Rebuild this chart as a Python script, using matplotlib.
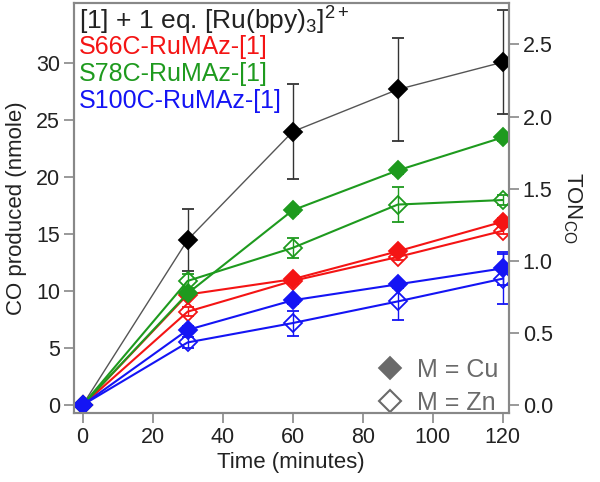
"""
CO production vs time for RuMAz conjugates, Cu (filled) vs Zn (open),
with TON on a twin right axis.
"""
import matplotlib
matplotlib.use("Agg")
import matplotlib.pyplot as plt
from matplotlib.lines import Line2D

plt.rcParams["font.family"] = ["Liberation Sans", "DejaVu Sans"]
plt.rcParams["mathtext.fontset"] = "custom"
plt.rcParams["mathtext.rm"] = "Liberation Sans"
plt.rcParams["mathtext.it"] = "Liberation Sans:italic"
plt.rcParams["mathtext.bf"] = "Liberation Sans:bold"
plt.rcParams["mathtext.default"] = "regular"

# -- data (nmole CO) ----------------------------------------------------------
time_min = [0, 30, 60, 90, 120]

ru_free     = [0, 14.5, 24.0, 27.7, 30.1]
ru_free_err = [0, 2.7, 4.15, 4.5, 4.55]

s66_cu      = [0, 9.7, 11.05, 13.5, 16.1]
s66_cu_err  = [0, 0.3, 0.3, 0.3, 0.3]
s66_zn      = [0, 8.2, 10.9, 13.0, 15.3]
s66_zn_err  = [0, 0.4, 0.3, 0.3, 0.3]

s78_cu      = [0, 9.8, 17.1, 20.6, 23.5]
s78_cu_err  = [0, 0.3, 0.3, 0.3, 0.3]
s78_zn      = [0, 10.9, 13.8, 17.6, 18.0]
s78_zn_err  = [0, 0.6, 0.9, 1.5, 0.4]

s100_cu     = [0, 6.6, 9.2, 10.6, 12.0]
s100_cu_err = [0, 0.3, 0.3, 0.3, 1.45]
s100_zn     = [0, 5.5, 7.2, 9.1, 11.1]
s100_zn_err = [0, 0.5, 1.1, 1.6, 2.2]

NMOLE_PER_TON = 12.66

# -- palette -------------------------------------------------------------------
C_BLACK = "#000000"
C_GRAYLINE = "#555555"
C_RED = "#f41414"
C_GREEN = "#1e9a1e"
C_BLUE = "#1414f4"
C_SPINE = "#888888"
C_TEXT = "#222222"
C_LEG = "#6a6a6a"

FS_TICK = 15.5
FS_LABEL = 16
FS_NOTE = 18

fig = plt.figure(figsize=(6.0, 4.82), dpi=100, facecolor="white")
ax = fig.add_axes([0.123, 0.143, 0.725, 0.851])


def series(y, err, color, filled, lw=1.5, ms=9.5, mcolor=None, ecolor=None):
    mcolor = mcolor or color
    ax.errorbar(time_min, y, yerr=err, color=color, lw=lw,
                marker="D", ms=ms,
                mfc=mcolor if filled else "none", mec=mcolor, mew=1.3,
                ecolor=ecolor or color, elinewidth=1.0, capsize=4, capthick=1.0,
                zorder=3)


series(ru_free, ru_free_err, C_GRAYLINE, True, lw=1.0,
       mcolor=C_BLACK, ecolor="#333333")
series(s66_zn, s66_zn_err, C_RED, False)
series(s66_cu, s66_cu_err, C_RED, True)
series(s78_zn, s78_zn_err, C_GREEN, False)
series(s78_cu, s78_cu_err, C_GREEN, True)
series(s100_zn, s100_zn_err, C_BLUE, False)
series(s100_cu, s100_cu_err, C_BLUE, True)

ax.set_xlim(-2.5, 121.7)
ax.set_ylim(-0.7, 35.3)
ax.set_xticks(range(0, 121, 20))
ax.set_yticks(range(0, 31, 5))
ax.set_xlabel("Time (minutes)", fontsize=FS_LABEL, color=C_TEXT, labelpad=3)
ax.set_ylabel("CO produced (nmole)", fontsize=FS_LABEL, color=C_TEXT, labelpad=6)
ax.tick_params(direction="out", length=7, width=1.2, color=C_SPINE,
               labelsize=FS_TICK, labelcolor=C_TEXT, pad=3)
for sp in ax.spines.values():
    sp.set_color(C_SPINE)
    sp.set_linewidth(1.5)

# -- right axis: turnover number -----------------------------------------------
ax2 = ax.twinx()
lo, hi = ax.get_ylim()
ax2.set_ylim(lo / NMOLE_PER_TON, hi / NMOLE_PER_TON)
ax2.set_yticks([0.0, 0.5, 1.0, 1.5, 2.0, 2.5])
ax2.yaxis.set_major_formatter(plt.FuncFormatter(lambda v, _: f"{v:.1f}"))
ax2.tick_params(direction="out", length=7, width=1.2, color=C_SPINE,
                labelsize=FS_TICK, labelcolor=C_TEXT, pad=3)
ax2.set_ylabel("TON$_{CO}$", fontsize=FS_LABEL, color=C_TEXT, rotation=270,
               labelpad=22)
for sp in ax2.spines.values():
    sp.set_color(C_SPINE)
    sp.set_linewidth(1.5)

# -- annotations -----------------------------------------------------------------
tx = 0.012
ax.text(tx, 0.996, "[1] + 1 eq. [Ru(bpy)$_3$]$^{2+}$", transform=ax.transAxes,
        fontsize=19, color=C_TEXT, va="top", ha="left")
notes = [
    ("S66C-RuMAz-[1]", C_RED),
    ("S78C-RuMAz-[1]", C_GREEN),
    ("S100C-RuMAz-[1]", C_BLUE),
]
for i, (txt, col) in enumerate(notes):
    ax.text(tx, 0.921 - i * 0.065, txt, transform=ax.transAxes,
            fontsize=FS_NOTE, color=col, va="top", ha="left")

handles = [
    Line2D([], [], ls="none", marker="D", ms=11, mfc=C_LEG, mec=C_LEG, mew=1.3),
    Line2D([], [], ls="none", marker="D", ms=11, mfc="none", mec=C_LEG, mew=1.5),
]
ax.legend(handles, ["M = Cu", "M = Zn"], loc="lower right",
          bbox_to_anchor=(0.975, -0.005),
          frameon=False, fontsize=FS_NOTE, handlelength=1.0,
          handletextpad=0.55, labelspacing=0.38,
          borderaxespad=0.0, borderpad=0.0, labelcolor=C_LEG)

fig.savefig("out.png", dpi=100, facecolor="white")
